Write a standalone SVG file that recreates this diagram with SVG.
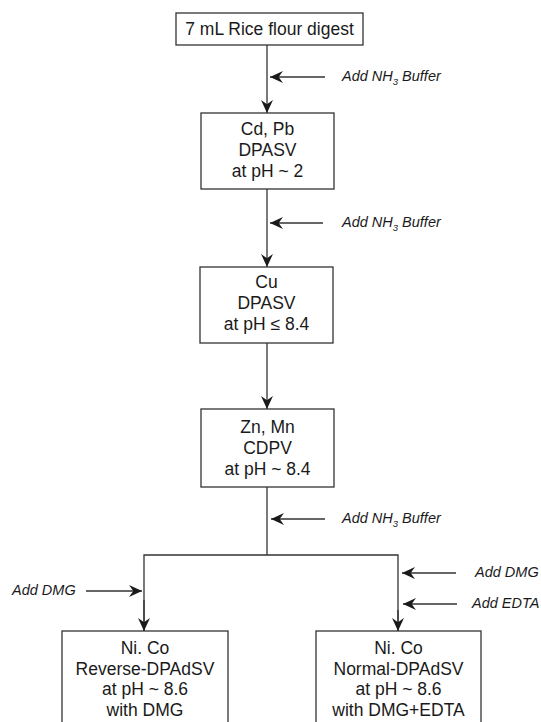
<svg xmlns="http://www.w3.org/2000/svg" width="541" height="722" viewBox="0 0 541 722">
<defs>
<style>
.box{fill:#fff;stroke:#333;stroke-width:1.3}
.ln{fill:none;stroke:#333;stroke-width:1.3}
.t{font-family:"Liberation Sans",Arial,sans-serif;font-size:17.5px;fill:#1a1a1a;text-anchor:middle}
.l{font-family:"Liberation Sans",Arial,sans-serif;font-size:14.5px;font-style:italic;fill:#1a1a1a}
</style>
<marker id="ah" viewBox="0 0 12 12" refX="12" refY="6" markerWidth="13" markerHeight="13" markerUnits="userSpaceOnUse" orient="auto">
<path d="M0,0.5 L12,6 L0,11.5 L4,6 z" fill="#1a1a1a"/>
</marker>
</defs>
<rect width="541" height="722" fill="#fff"/>
<g id="connectors">
<line class="ln" x1="267" y1="45" x2="267" y2="113" marker-end="url(#ah)"/>
<line class="ln" x1="267" y1="189" x2="267" y2="267" marker-end="url(#ah)"/>
<line class="ln" x1="267" y1="343" x2="267" y2="409" marker-end="url(#ah)"/>
<polyline class="ln" points="267,487 267,555"/>
<polyline class="ln" points="144,631 144,555 398,555 398,631"/>
<line class="ln" x1="144" y1="600" x2="144" y2="631" marker-end="url(#ah)"/>
<line class="ln" x1="398" y1="610" x2="398" y2="631" marker-end="url(#ah)"/>
<line class="ln" x1="325" y1="77" x2="270" y2="77" marker-end="url(#ah)"/>
<line class="ln" x1="323" y1="223" x2="270" y2="223" marker-end="url(#ah)"/>
<line class="ln" x1="325" y1="519" x2="271" y2="519" marker-end="url(#ah)"/>
<line class="ln" x1="456" y1="573" x2="402" y2="573" marker-end="url(#ah)"/>
<line class="ln" x1="457" y1="604" x2="403" y2="604" marker-end="url(#ah)"/>
<line class="ln" x1="86" y1="591" x2="142" y2="591" marker-end="url(#ah)"/>
</g>
<g id="labels">
<text class="l" x="342" y="81">Add NH<tspan font-size="9.5" dy="3.5">3</tspan><tspan dy="-3.5"> Buffer</tspan></text>
<text class="l" x="342" y="227">Add NH<tspan font-size="9.5" dy="3.5">3</tspan><tspan dy="-3.5"> Buffer</tspan></text>
<text class="l" x="342" y="523">Add NH<tspan font-size="9.5" dy="3.5">3</tspan><tspan dy="-3.5"> Buffer</tspan></text>
<text class="l" x="475" y="577">Add DMG</text>
<text class="l" x="472" y="608">Add EDTA</text>
<text class="l" x="12" y="595">Add DMG</text>
</g>
<g id="n1">
<rect class="box" x="176" y="13" width="187" height="32"/>
<text class="t" x="269.5" y="35">7 mL Rice flour digest</text>
</g>
<g id="n2">
<rect class="box" x="201" y="113" width="133" height="76"/>
<text class="t" x="267.5" y="135">Cd, Pb</text>
<text class="t" x="267.5" y="156">DPASV</text>
<text class="t" x="267.5" y="177">at pH ~ 2</text>
</g>
<g id="n3">
<rect class="box" x="200" y="267" width="133" height="76"/>
<text class="t" x="266.5" y="288">Cu</text>
<text class="t" x="266.5" y="309">DPASV</text>
<text class="t" x="266.5" y="330">at pH ≤ 8.4</text>
</g>
<g id="n4">
<rect class="box" x="201" y="409" width="133" height="78"/>
<text class="t" x="267.5" y="433">Zn, Mn</text>
<text class="t" x="267.5" y="454">CDPV</text>
<text class="t" x="267.5" y="475">at pH ~ 8.4</text>
</g>
<g id="n5">
<rect class="box" x="62" y="631" width="166" height="100"/>
<text class="t" x="145" y="654">Ni. Co</text>
<text class="t" x="145" y="675">Reverse-DPAdSV</text>
<text class="t" x="145" y="695">at pH ~ 8.6</text>
<text class="t" x="145" y="715.5">with DMG</text>
</g>
<g id="n6">
<rect class="box" x="316" y="631" width="165" height="100"/>
<text class="t" x="398.5" y="654">Ni. Co</text>
<text class="t" x="398.5" y="675">Normal-DPAdSV</text>
<text class="t" x="398.5" y="695">at pH ~ 8.6</text>
<text class="t" x="398.5" y="715.5">with DMG+EDTA</text>
</g>
</svg>
